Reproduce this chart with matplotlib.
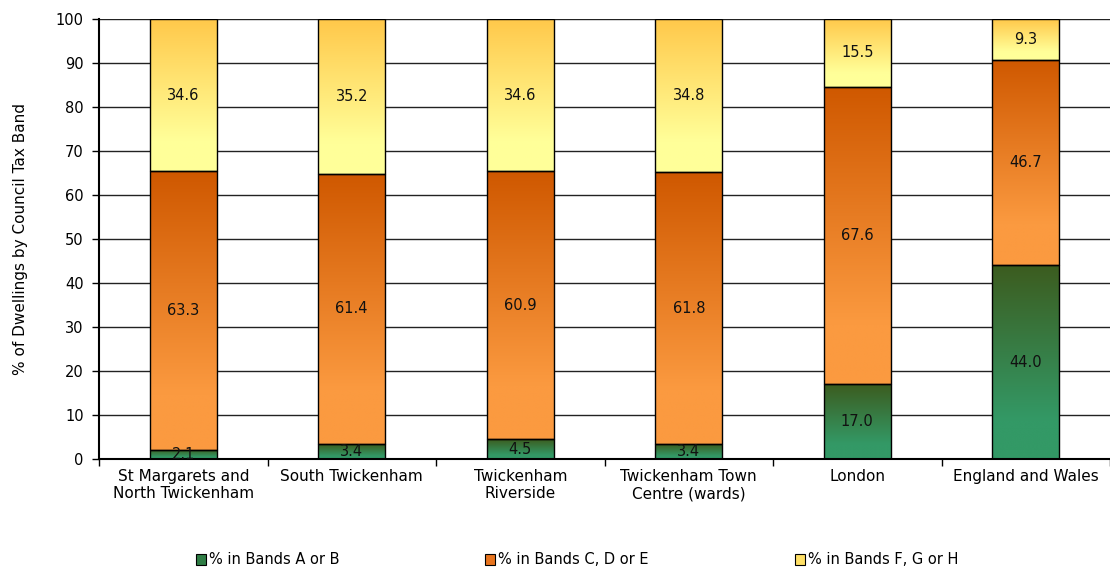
import matplotlib
matplotlib.use("Agg")
import matplotlib.pyplot as plt
import numpy as np
from matplotlib.colors import to_rgb
from matplotlib.patches import Patch

categories = ["St Margarets and\nNorth Twickenham", "South Twickenham", "Twickenham\nRiverside",
              "Twickenham Town\nCentre (wards)", "London", "England and Wales"]
bands_ab = [2.1, 3.4, 4.5, 3.4, 17.0, 44.0]
bands_cde = [63.3, 61.4, 60.9, 61.8, 67.6, 46.7]
bands_fgh = [34.6, 35.2, 34.6, 34.8, 15.5, 9.3]
series_names = ["% in Bands A or B", "% in Bands C, D or E", "% in Bands F, G or H"]

# (top colour, bottom colour) for each series gradient
grads = [("#3c5c1f", "#339966"), ("#cf5800", "#fb9a40"), ("#ffc84a", "#ffff99")]
legend_cols = ["#2f7d45", "#e8741e", "#ffe066"]

plt.rcParams['font.family'] = ['DejaVu Sans']
plt.rcParams['font.size'] = 10.5

fig = plt.figure(figsize=(11.10, 5.69), dpi=100)
ax = fig.add_axes([99 / 1110, 1 - 459 / 569, 1 - 99 / 1110, 440 / 569])

x = np.arange(len(categories))
width = 0.4


def gradient_fill(rect, top, bottom):
    x0, y0 = rect.get_x(), rect.get_y()
    w, h = rect.get_width(), rect.get_height()
    n = 200
    f = np.linspace(1, 0, n)  # 1 at top, 0 at bottom
    t = np.clip((f - 0.2) / 0.8, 0, 1)[:, None]
    c_top = np.array(to_rgb(top))
    c_bot = np.array(to_rgb(bottom))
    img = c_bot + (c_top - c_bot) * t
    img = np.repeat(img[:, None, :], 2, axis=1)
    im = ax.imshow(img, extent=[x0, x0 + w, y0, y0 + h], aspect='auto',
                   zorder=2, interpolation='bilinear')
    im.set_clip_path(rect)


bottom = np.zeros(len(categories))
for vals, (top_c, bot_c) in zip([bands_ab, bands_cde, bands_fgh], grads):
    bars = ax.bar(x, vals, width, bottom=bottom, facecolor='none',
                  edgecolor='black', linewidth=1, zorder=3)
    for rect, v, b in zip(bars, vals, bottom):
        gradient_fill(rect, top_c, bot_c)
        ax.text(rect.get_x() + width / 2, b + v / 2, f"{v:.1f}",
                ha='center', va='center', fontsize=10.5, color='#111111', zorder=4)
    bottom = bottom + np.array(vals)

ax.set_xlim(-0.5, len(categories) - 0.5)
ax.set_ylim(0, 100)
ax.set_yticks(np.arange(0, 101, 10))
ax.set_xticks(x)
ax.set_xticklabels(categories, fontsize=11)
ax.set_xticks(np.arange(-0.5, len(categories), 1), minor=True)
ax.tick_params(axis='x', which='major', length=0, pad=7)
ax.tick_params(axis='x', which='minor', length=5, width=1)
ax.tick_params(axis='y', length=5, width=1, pad=6)
ax.grid(axis='y', color='#222222', linewidth=1, zorder=0)
ax.set_axisbelow(True)
for s in ['top', 'right']:
    ax.spines[s].set_visible(False)
ax.spines['left'].set_linewidth(1.5)
ax.spines['bottom'].set_linewidth(1.5)
ax.set_ylabel("% of Dwellings by Council Tax Band", labelpad=20, fontsize=11)

handles = [Patch(facecolor=c, edgecolor='black', linewidth=0.8) for c in legend_cols]
fig.legend(handles, series_names, loc='center', bbox_to_anchor=(577 / 1110, 1 - 560 / 569),
           ncol=3, frameon=False, columnspacing=10.0, handlelength=0.7, handleheight=0.7,
           handletextpad=0.2, fontsize=10.5)

fig.savefig("out.png", dpi=100, facecolor='white')
